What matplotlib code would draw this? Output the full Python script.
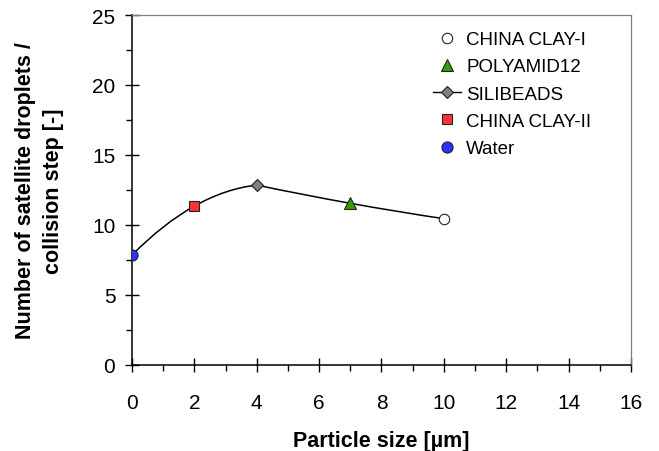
import numpy as np
import matplotlib
matplotlib.use('agg')
import matplotlib.pyplot as plt
from matplotlib.path import Path
from matplotlib.patches import PathPatch
from matplotlib.ticker import MultipleLocator

plt.rcParams['font.family'] = ['Liberation Sans', 'DejaVu Sans']

# measured points (particle size in um, satellite droplets per collision step)
names = ['CHINA CLAY-I', 'POLYAMID12', 'SILIBEADS', 'CHINA CLAY-II', 'Water']
size_um = [10, 7, 4, 2, 0]
n_sat = [10.45, 11.55, 12.85, 11.35, 7.85]
markers = ['o', '^', 'D', 's', 'o']
faces = ['white', '#33a000', '#808080', '#ff3333', '#3030ff']
msizes = [7.5, 8, 6, 7.5, 8]

# trend line drawn through the points, in two smoothed pieces
trend_a = [4, 3, 2]   # indices: Water -> CHINA CLAY-II -> SILIBEADS
trend_b = [2, 1, 0]   # SILIBEADS -> POLYAMID12 -> CHINA CLAY-I


def smooth_path(xs, ys):
    # smoothed line: cubic bezier, catmull-rom tangents inside,
    # parabolic end conditions
    p = np.column_stack([xs, ys]).astype(float)
    n = len(p)
    tang = np.zeros_like(p)
    for i in range(1, n - 1):
        tang[i] = (p[i + 1] - p[i - 1]) / 2.0
    tang[0] = 2 * (p[1] - p[0]) - tang[1]
    tang[-1] = 2 * (p[-1] - p[-2]) - tang[-2]
    verts = [p[0]]
    codes = [Path.MOVETO]
    for i in range(n - 1):
        verts += [p[i] + tang[i] / 3.0, p[i + 1] - tang[i + 1] / 3.0, p[i + 1]]
        codes += [Path.CURVE4] * 3
    return Path(verts, codes)


fig = plt.figure(figsize=(6.59, 4.52), dpi=100)
ax = fig.add_axes([0.2003, 0.1903, 0.7572, 0.7743])

for idx in (trend_a, trend_b):
    pth = smooth_path([size_um[i] for i in idx], [n_sat[i] for i in idx])
    ax.add_patch(PathPatch(pth, facecolor='none', edgecolor='black', lw=1.1, zorder=2))

for i, nm in enumerate(names):
    ls = '-' if nm == 'SILIBEADS' else 'none'
    ax.plot([size_um[i]], [n_sat[i]], marker=markers[i], markersize=msizes[i],
            markerfacecolor=faces[i], markeredgecolor='#222222', markeredgewidth=0.8,
            linestyle=ls, color='black', lw=1.0, label=nm, zorder=3)

ax.set_xlim(0, 16)
ax.set_ylim(0, 25)
ax.xaxis.set_major_locator(MultipleLocator(2))
ax.xaxis.set_minor_locator(MultipleLocator(1))
ax.yaxis.set_major_locator(MultipleLocator(5))
ax.yaxis.set_minor_locator(MultipleLocator(2.5))
ax.tick_params(which='major', direction='inout', length=10, width=1.0, labelsize=15)
ax.tick_params(which='minor', direction='out', length=4, width=1.0)
ax.tick_params(axis='x', which='major', pad=15)
ax.tick_params(axis='y', which='major', pad=7)

for s in ('left', 'bottom'):
    ax.spines[s].set_linewidth(1.1)
for s in ('top', 'right'):
    ax.spines[s].set_color('#808080')
    ax.spines[s].set_linewidth(0.9)

ax.set_xlabel('Particle size [µm]', fontsize=15.5, fontweight='bold', labelpad=13)
ax.set_ylabel('Number of satellite droplets /\ncollision step [-]', fontsize=15.5,
              fontweight='bold', labelpad=20, linespacing=1.45)

leg = fig.legend(loc='upper left', bbox_to_anchor=(0.657, 0.929), frameon=False, fontsize=13.5,
                 handlelength=1.5, handletextpad=0.27, labelspacing=0.54, borderpad=0,
                 borderaxespad=0)

fig.savefig('out.png', dpi=100)
